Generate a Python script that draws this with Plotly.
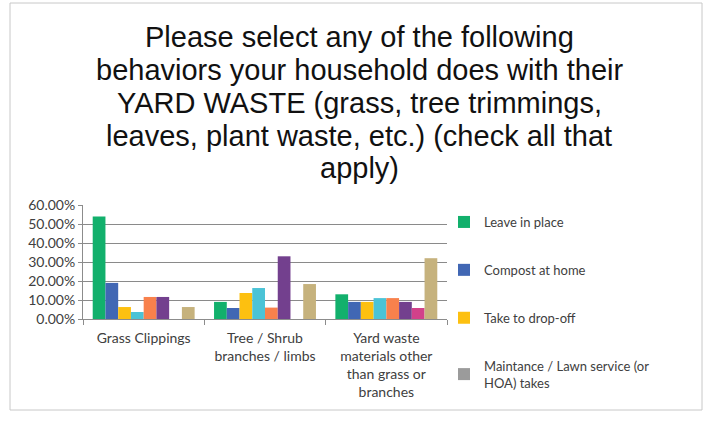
import plotly.graph_objects as go

# Survey categories (x axis)
categories = [
    "Grass Clippings",
    "Tree / Shrub<br>branches / limbs",
    "Yard waste<br>materials other<br>than grass or<br>branches",
]

# Share of households per behavior, one list per response
leave_in_place = [0.54, 0.09, 0.13]
compost_at_home = [0.19, 0.058, 0.09]
take_to_dropoff = [0.063, 0.137, 0.09]
curbside_pickup = [0.037, 0.163, 0.11]
put_in_trash = [0.116, 0.06, 0.11]
burn = [0.116, 0.33, 0.09]
give_away = [0.0, 0.0, 0.058]
other = [0.063, 0.184, 0.32]
lawn_service = [0.0, 0.0, 0.0]

y_ticks = [0, 0.1, 0.2, 0.3, 0.4, 0.5, 0.6]
y_tick_text = ["0.00%", "10.00%", "20.00%", "30.00%", "40.00%", "50.00%", "60.00%"]

title_lines = [
    "Please select any of the following",
    "behaviors your household does with their",
    "YARD WASTE (grass, tree trimmings,",
    "leaves, plant waste, etc.) (check all that",
    "apply)",
]

series = [
    ("Leave in place", leave_in_place, "#12B06C", True),
    ("Compost at home", compost_at_home, "#4167B4", True),
    ("Take to drop-off", take_to_dropoff, "#FDC010", True),
    ("Curbside yard waste pickup", curbside_pickup, "#4BC3D6", False),
    ("Put in trash", put_in_trash, "#F8814C", False),
    ("Burn", burn, "#73408E", False),
    ("Give away", give_away, "#D2418A", False),
    ("Other", other, "#C6B27D", False),
]

fig = go.Figure()
for i, (name, vals, color, in_legend) in enumerate(series):
    fig.add_trace(go.Bar(
        x=categories, y=vals, name=name,
        marker=dict(color=color, line=dict(width=0)),
        showlegend=in_legend, legendgroup=f"g{i}",
    ))

# Lawn-service response sits on an overlaid axis so it does not take a bar slot
fig.add_trace(go.Bar(
    x=categories, y=lawn_service,
    name="Maintance / Lawn service (or<br>HOA) takes",
    marker=dict(color="#9B9B9B", line=dict(width=0)),
    xaxis="x2", yaxis="y2", legendgroup="g_lawn",
))

W, H = 705, 422
L, R, T, B = 83, 258, 205, 103
pw, ph = W - L - R, H - T - B

def px_x(p):
    return (p - L) / pw

def px_y(p):
    return (H - B - p) / ph

# Title drawn line by line for tight line spacing
line_centers = [37, 70, 103, 136, 168]
annotations = [
    dict(text=t, xref="paper", yref="paper", x=px_x(359), y=px_y(yc),
         xanchor="center", yanchor="middle", showarrow=False,
         font=dict(family="Liberation Sans, Arial", size=29, color="#111111"))
    for t, yc in zip(title_lines, line_centers)
]

fig.update_layout(
    width=W, height=H,
    margin=dict(l=L, r=R, t=T, b=B),
    paper_bgcolor="white", plot_bgcolor="white",
    barmode="group", bargap=0.16, bargroupgap=0,
    annotations=annotations,
    font=dict(family="Lato, Open Sans", size=12, color="#404040"),
    legend=dict(
        x=px_x(444), y=px_y(207), xanchor="left", yanchor="top",
        font=dict(family="Lato, Open Sans", size=13, color="#404040"),
        tracegroupgap=28, itemwidth=30, bgcolor="rgba(0,0,0,0)",
        traceorder="grouped", maxheight=400,
    ),
    xaxis=dict(
        type="category", showgrid=False, showline=True, linecolor="#8C8C8C",
        ticks="outside", tickson="boundaries", ticklen=5, tickcolor="#8C8C8C",
        ticklabelstandoff=6,
        tickfont=dict(family="Lato, Open Sans", size=14, color="#404040"),
    ),
    yaxis=dict(
        range=[0, 0.6], tickvals=y_ticks, ticktext=y_tick_text,
        showgrid=True, gridcolor="#8A8A8A", gridwidth=1,
        showline=True, linecolor="#8C8C8C", ticks="outside", ticklen=4,
        tickcolor="#8C8C8C", zeroline=False,
        tickfont=dict(family="Lato, Open Sans", size=14, color="#404040"),
    ),
    xaxis2=dict(type="category", overlaying="x", visible=False, matches="x"),
    yaxis2=dict(overlaying="y", visible=False, range=[0, 0.6]),
    shapes=[dict(
        type="rect", xref="paper", yref="paper",
        x0=px_x(10), x1=px_x(702), y0=px_y(410), y1=px_y(3),
        line=dict(color="#C8C8C8", width=1), fillcolor="rgba(0,0,0,0)", layer="below",
    )],
)

fig.write_html("out.html")
